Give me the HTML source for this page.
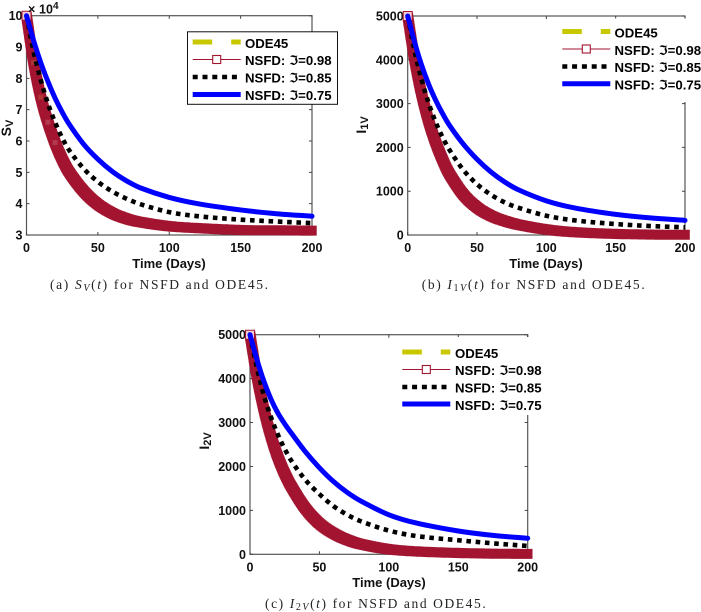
<!DOCTYPE html>
<html>
<head>
<meta charset="utf-8">
<title>NSFD and ODE45 comparison</title>
<style>
html,body{margin:0;padding:0;background:#fff;width:701px;height:612px;overflow:hidden}
svg{display:block;filter:blur(0.35px)}
text{font-family:"Liberation Sans","DejaVu Sans",sans-serif;fill:#111}
.tick{font-size:12.5px;font-weight:bold}
.axis-label{font-size:13px;font-weight:bold}
.y-label{font-size:14px;font-weight:bold}
.legend-label{font-size:13.2px;font-weight:bold;fill:#000}
.frak{font-family:"DejaVu Sans",sans-serif;font-weight:bold}
.caption{font-family:"Liberation Serif",serif;font-size:13.5px;fill:#222}
.caption tspan.m{font-style:italic}
</style>
</head>
<body>
<svg id="figure" xmlns="http://www.w3.org/2000/svg" width="701" height="612" viewBox="0 0 701 612">
  <g id="chart-a">
    <g id="plot-a"></g>
    <text class="y-label" transform="translate(11,128) rotate(-90)" text-anchor="middle">S<tspan font-size="11" dy="2">V</tspan></text>
    <text class="axis-label" x="169" y="268" text-anchor="middle">Time (Days)</text>
    <text class="tick" x="28" y="13.5">×</text>
    <text class="tick" x="39" y="13.5">10</text>
    <text class="tick" x="53" y="9" style="font-size:10px">4</text>
    <g>
      <rect x="187.5" y="31.8" width="150" height="72.5" fill="#fff" stroke="#111" stroke-width="1"/>
      <line x1="192.7" x2="240.7" y1="42" y2="42" stroke="#c8c800" stroke-width="5" stroke-dasharray="19.5 19"/>
      <text class="legend-label" x="245" y="48">ODE45</text>
      <line x1="192.7" x2="240.7" y1="59.5" y2="59.5" stroke="#a2142f" stroke-width="1.1"/>
      <rect x="212.7" y="55.5" width="8" height="8" fill="#fff" stroke="#a2142f" stroke-width="1.1"/>
      <text class="legend-label" x="245" y="65">NSFD: <tspan class="frak">ℑ</tspan>=0.98</text>
      <line x1="192.7" x2="240.7" y1="77" y2="77" stroke="#000" stroke-width="4.6" stroke-dasharray="5 4.8"/>
      <text class="legend-label" x="245" y="82.5">NSFD: <tspan class="frak">ℑ</tspan>=0.85</text>
      <line x1="192.7" x2="240.7" y1="94.5" y2="94.5" stroke="#0000ff" stroke-width="5"/>
      <text class="legend-label" x="245" y="100">NSFD: <tspan class="frak">ℑ</tspan>=0.75</text>
    </g>
    <text class="caption" x="50" y="289" textLength="218">(a) <tspan class="m">S</tspan><tspan class="m" font-size="10" dy="2">V</tspan><tspan dy="-2">(</tspan><tspan class="m">t</tspan>) for NSFD and ODE45.</text>
  </g>

  <g id="chart-b">
    <g id="plot-b"></g>
    <text class="y-label" transform="translate(366,125) rotate(-90)" text-anchor="middle">I<tspan font-size="11" dy="2">1V</tspan></text>
    <text class="axis-label" x="546" y="268" text-anchor="middle">Time (Days)</text>
    <g>
      <rect x="556" y="18.5" width="145" height="83.5" fill="#fff"/>
      <line x1="562.3" x2="610.3" y1="31.5" y2="31.5" stroke="#c8c800" stroke-width="5" stroke-dasharray="19.5 19"/>
      <text class="legend-label" x="614.5" y="37.5">ODE45</text>
      <line x1="562.3" x2="610.3" y1="49" y2="49" stroke="#a2142f" stroke-width="1.1"/>
      <rect x="582.3" y="45" width="8" height="8" fill="#fff" stroke="#a2142f" stroke-width="1.1"/>
      <text class="legend-label" x="614.5" y="55">NSFD: <tspan class="frak">ℑ</tspan>=0.98</text>
      <line x1="562.3" x2="610.3" y1="66.5" y2="66.5" stroke="#000" stroke-width="4.6" stroke-dasharray="5 4.8"/>
      <text class="legend-label" x="614.5" y="72">NSFD: <tspan class="frak">ℑ</tspan>=0.85</text>
      <line x1="562.3" x2="610.3" y1="83.8" y2="83.8" stroke="#0000ff" stroke-width="5"/>
      <text class="legend-label" x="614.5" y="89.5">NSFD: <tspan class="frak">ℑ</tspan>=0.75</text>
    </g>
    <text class="caption" x="421.7" y="289" textLength="223">(b) <tspan class="m">I</tspan><tspan font-size="10" dy="2">1</tspan><tspan class="m" font-size="10">V</tspan><tspan dy="-2">(</tspan><tspan class="m">t</tspan>) for NSFD and ODE45.</text>
  </g>

  <g id="chart-c">
    <g id="plot-c"></g>
    <text class="y-label" transform="translate(209,441) rotate(-90)" text-anchor="middle">I<tspan font-size="11" dy="2">2V</tspan></text>
    <text class="axis-label" x="389" y="587" text-anchor="middle">Time (Days)</text>
    <g>
      <rect x="396" y="337" width="145" height="78" fill="#fff"/>
      <line x1="402.3" x2="450.3" y1="352" y2="352" stroke="#c8c800" stroke-width="5" stroke-dasharray="19.5 19"/>
      <text class="legend-label" x="455" y="358">ODE45</text>
      <line x1="402.3" x2="450.3" y1="369.5" y2="369.5" stroke="#a2142f" stroke-width="1.1"/>
      <rect x="422.3" y="365.5" width="8" height="8" fill="#fff" stroke="#a2142f" stroke-width="1.1"/>
      <text class="legend-label" x="455" y="375">NSFD: <tspan class="frak">ℑ</tspan>=0.98</text>
      <line x1="402.3" x2="450.3" y1="387" y2="387" stroke="#000" stroke-width="4.6" stroke-dasharray="5 4.8"/>
      <text class="legend-label" x="455" y="392.5">NSFD: <tspan class="frak">ℑ</tspan>=0.85</text>
      <line x1="402.3" x2="450.3" y1="404" y2="404" stroke="#0000ff" stroke-width="5"/>
      <text class="legend-label" x="455" y="410">NSFD: <tspan class="frak">ℑ</tspan>=0.75</text>
    </g>
    <text class="caption" x="265" y="608" textLength="220.7">(c) <tspan class="m">I</tspan><tspan font-size="10" dy="2">2</tspan><tspan class="m" font-size="10">V</tspan><tspan dy="-2">(</tspan><tspan class="m">t</tspan>) for NSFD and ODE45.</text>
  </g>
</svg>
<script>
var timeDays = [0,5,10,15,20,25,30,40,50,60,70,80,100,120,150,175,200];
var xTicks = [0,50,100,150,200];

var svTicks = [3,4,5,6,7,8,9,10];
var svOde45 = [10,8.5,7.4,6.6,5.95,5.42,5.0,4.4,3.98,3.7,3.52,3.41,3.28,3.22,3.16,3.15,3.14];
var svNsfd098 = [10,8.5,7.4,6.6,5.95,5.42,5.0,4.4,3.98,3.7,3.52,3.41,3.28,3.22,3.16,3.15,3.14];
var svNsfd085 = [10,8.85,7.95,7.2,6.6,6.1,5.7,5.12,4.7,4.39,4.16,3.98,3.73,3.6,3.49,3.43,3.38];
var svNsfd075 = [10,9.2,8.5,7.9,7.37,6.92,6.53,5.9,5.42,5.03,4.73,4.5,4.2,4.0,3.8,3.68,3.6];

var i1vTicks = [0,1000,2000,3000,4000,5000];
var i1vOde45 = [5000,4000,3220,2610,2130,1730,1400,930,630,440,320,235,125,65,25,10,5];
var i1vNsfd098 = [5000,4000,3220,2610,2130,1730,1400,930,630,440,320,235,125,65,25,10,5];
var i1vNsfd085 = [5000,4200,3550,3020,2590,2240,1950,1490,1160,920,745,620,440,335,250,205,175];
var i1vNsfd075 = [5000,4400,3880,3450,3090,2780,2510,2080,1730,1440,1210,1030,780,620,470,390,335];

var i2vTicks = [0,1000,2000,3000,4000,5000];
var i2vOde45 = [5000,4050,3300,2700,2220,1840,1530,1040,700,480,330,230,115,65,30,15,8];
var i2vNsfd098 = [5000,4050,3300,2700,2220,1840,1530,1040,700,480,330,230,115,65,30,15,8];
var i2vNsfd085 = [5000,4250,3620,3130,2730,2400,2120,1690,1370,1100,900,750,540,415,320,250,190];
var i2vNsfd075 = [5000,4430,3940,3540,3220,2970,2750,2330,1970,1660,1410,1210,900,710,530,430,365];

var NS = 'http://www.w3.org/2000/svg';

function make(parent, tag, attrs, text) {
  var n = document.createElementNS(NS, tag);
  for (var k in attrs) { n.setAttribute(k, attrs[k]); }
  if (text !== undefined) { n.textContent = text; }
  parent.appendChild(n);
  return n;
}

function smoothPath(xs, ys) {
  var d = 'M' + xs[0].toFixed(2) + ' ' + ys[0].toFixed(2);
  for (var i = 0; i < xs.length - 1; i++) {
    var p0 = Math.max(i - 1, 0), p3 = Math.min(i + 2, xs.length - 1);
    var h = xs[i + 1] - xs[i];
    var m1 = (ys[i + 1] - ys[p0]) / (xs[i + 1] - xs[p0]);
    var m2 = (ys[p3] - ys[i]) / (xs[p3] - xs[i]);
    d += 'C' + (xs[i] + h / 3).toFixed(2) + ' ' + (ys[i] + m1 * h / 3).toFixed(2) + ' ' +
         (xs[i + 1] - h / 3).toFixed(2) + ' ' + (ys[i + 1] - m2 * h / 3).toFixed(2) + ' ' +
         xs[i + 1].toFixed(2) + ' ' + ys[i + 1].toFixed(2);
  }
  return d;
}

function drawChart(cfg) {
  var g = document.getElementById(cfg.id);
  var xScale = function (v) { return cfg.left + (v - 0) / 200 * (cfg.right - cfg.left); };
  var yScale = function (v) { return cfg.bottom - (v - cfg.yMin) / (cfg.yMax - cfg.yMin) * (cfg.bottom - cfg.top); };

  var box = make(g, 'rect', {x: cfg.left, y: cfg.top, width: cfg.right - cfg.left, height: cfg.bottom - cfg.top, fill: '#fff', stroke: '#555', 'stroke-width': 1.2});
  
  

  xTicks.forEach(function (t) {
    var x = xScale(t);
    var b = make(g, 'path', {d: 'M' + x + ' ' + cfg.bottom + 'v-3M' + x + ' ' + cfg.top + 'v3', stroke: '#444', 'stroke-width': 1, fill: 'none'});
    
    
    var l = make(g, 'text', {x: x, y: cfg.bottom + 17, 'text-anchor': 'middle', 'class': 'tick'}, String(t));
    
    
  });

  cfg.ticks.forEach(function (t) {
    var y = yScale(t);
    var b = make(g, 'path', {d: 'M' + cfg.left + ' ' + y + 'h3M' + cfg.right + ' ' + y + 'h-3', stroke: '#444', 'stroke-width': 1, fill: 'none'});
    
    
    var l = make(g, 'text', {x: cfg.left - 4, y: y + 4.5, 'text-anchor': 'end', 'class': 'tick'}, String(t));
    
    
  });

  var xs = timeDays.map(xScale);

  var ode = make(g, 'path', {d: smoothPath(xs, cfg.ode.map(yScale)), fill: 'none', stroke: '#c8c800', 'stroke-width': 5, 'stroke-dasharray': '19.5 19'});
  
  

  var redLine = make(g, 'path', {d: smoothPath(xs, cfg.s098.map(yScale)), fill: 'none', stroke: '#a2142f', 'stroke-width': 1});
  
  

  var total = redLine.getTotalLength();
  var half = 5;
  var band = '';
  for (var s = 0; s <= total + 0.01; s += 1.2) {
    var p = redLine.getPointAtLength(Math.min(s, total));
    band += 'M' + (p.x - half).toFixed(1) + ' ' + (p.y - half).toFixed(1) + 'h' + (2 * half) + 'v' + (2 * half) + 'h' + (-2 * half) + 'z';
  }
  var markers = make(g, 'path', {d: band, fill: '#a2142f', 'fill-rule': 'nonzero'});
  
  

  var first = make(g, 'rect', {x: xScale(timeDays[0]) - 4, y: yScale(cfg.s098[0]) - 4, width: 8, height: 8, fill: '#f0ccd3', stroke: 'none'});
  
  

  for (var i = 1; i < cfg.texture; i++) {
    var tx = make(g, 'rect', {x: xScale(timeDays[i]) - 2.5, y: yScale(cfg.s098[i]) - 2.5, width: 5, height: 5, fill: i < 3 ? '#d9a040' : '#e6a6b2', opacity: 0.25});
    
    
  }

  var black = make(g, 'path', {d: smoothPath(xs, cfg.s085.map(yScale)), fill: 'none', stroke: '#000', 'stroke-width': 4.6, 'stroke-dasharray': '4.6 4.7'});
  
  

  var blue = make(g, 'path', {d: smoothPath(xs, cfg.s075.map(yScale)), fill: 'none', stroke: '#0000ff', 'stroke-width': 5, 'stroke-linecap': 'round'});
  
  
}

drawChart({id: 'plot-a', left: 26.5, right: 312, top: 15.7, bottom: 235, yMin: 3, yMax: 10, ticks: svTicks, ode: svOde45, s098: svNsfd098, s085: svNsfd085, s075: svNsfd075, texture: 5});
drawChart({id: 'plot-b', left: 407.7, right: 685, top: 16, bottom: 235, yMin: 0, yMax: 5000, ticks: i1vTicks, ode: i1vOde45, s098: i1vNsfd098, s085: i1vNsfd085, s075: i1vNsfd075, texture: 0});
drawChart({id: 'plot-c', left: 250, right: 527.7, top: 334.7, bottom: 554.3, yMin: 0, yMax: 5000, ticks: i2vTicks, ode: i2vOde45, s098: i2vNsfd098, s085: i2vNsfd085, s075: i2vNsfd075, texture: 0});
</script>
</body>
</html>
